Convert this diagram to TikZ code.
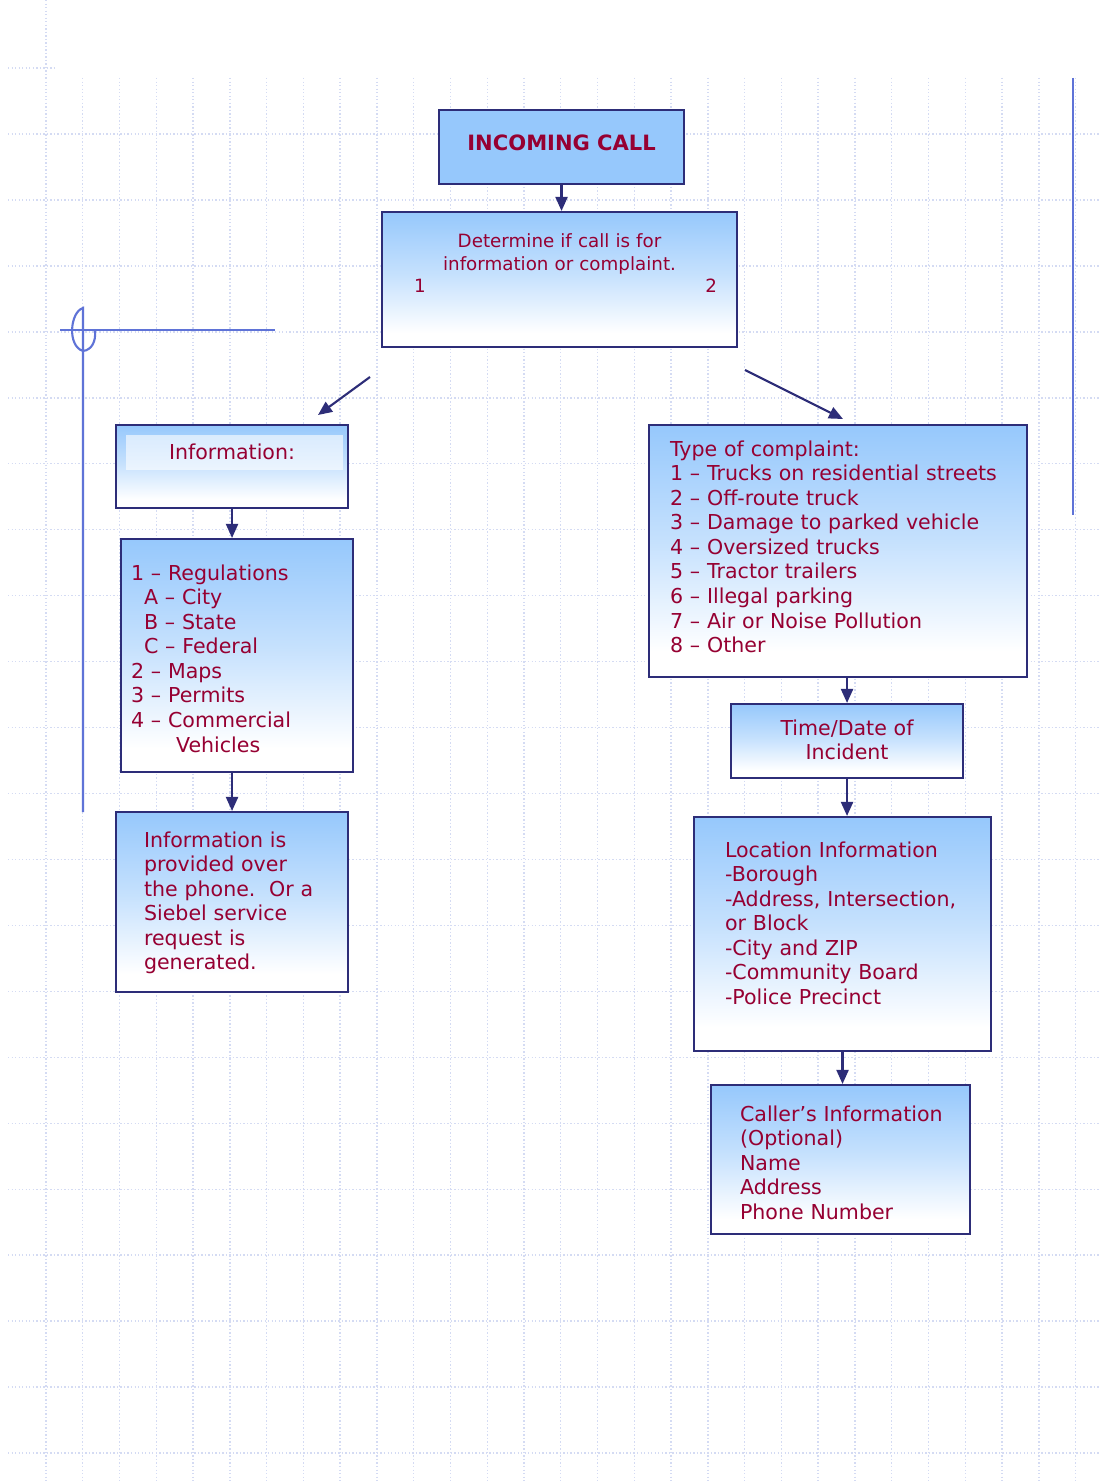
\documentclass[tikz,border=0pt]{standalone}
\usepackage{fontspec}
\setmainfont{DejaVu Sans}
\usepackage{tikz}
\usetikzlibrary{arrows.meta,positioning}
\definecolor{boxblue}{RGB}{150,200,252}
\definecolor{boxline}{RGB}{45,45,120}
\definecolor{txtred}{RGB}{150,0,50}
\definecolor{margenblue}{RGB}{95,115,215}
\definecolor{gridblue}{RGB}{212,219,243}
\pgfdeclareverticalshading{boxfade}{100bp}{color(0bp)=(white); color(30bp)=(white); color(52bp)=(boxblue!55!white); color(75bp)=(boxblue); color(100bp)=(boxblue)}

\begin{document}
\begin{tikzpicture}[x=0.02cm, y=-0.02cm,
    box/.style={draw=boxline, line width=1.2pt, shade, shading=boxfade, inner ysep=0pt,
      anchor=base west, align=left, text=txtred, font=\fontsize{11.7}{14}\selectfont},
    callbox/.style={box, shade=false, fill=boxblue},
    arr/.style={draw=boxline, line width=1.2pt, -{Triangle[length=2.8mm,width=2.4mm]}},
    rejilla/.style={draw=gridblue, line width=0.8pt, dash pattern=on 0.8pt off 1.2pt},
    margen/.style={draw=margenblue, line width=1.2pt}]
    \useasboundingbox (0,0) rectangle (1100,1483);
    \fill[white] (0,0) rectangle (1100,1483);

    % Hoja cuadriculada
    \foreach \i in {0,...,28}
      \draw[rejilla] ({46+36.77*\i},78) -- ({46+36.77*\i},1483);
    \foreach \j in {0,...,20}
      \draw[rejilla] (8,{134+65.95*\j}) -- (1100,{134+65.95*\j});
    \draw[rejilla] (46,0) -- (46,78);
    \draw[rejilla] (8,68) -- (57,68);

    % Margenes
    \draw[margen] (1073,78) -- (1073,515);
    \draw[margen] (60,330) -- (275,330);
    \draw[margen] (83,812) -- (83,308) .. controls (70,312) and (67,346) .. (83,351)
      .. controls (92,350) and (96,341) .. (95,331);

    % Llamada y decision
    \node[callbox, text width=45mm, inner xsep=2mm, text height=8.2mm, text depth=6.6mm,
      align=center, font=\fontsize{12}{14}\selectfont\bfseries] (call) at (438,151) {INCOMING CALL};
    \node[box, text width=63mm, inner xsep=4mm, text height=7.2mm, text depth=19.8mm,
      align=center, font=\fontsize{10.4}{12.75}\selectfont] (det) at (381,248)
      {Determine if call is for\\information or complaint.\\\hspace*{2.4mm}1\hfill 2};

    % Rama de informacion (izquierda)
    \node[box, text width=42.4mm, inner xsep=2mm, text height=6.8mm, text depth=9.8mm,
      align=center, path picture={\fill[white,opacity=.6]
        ([xshift=2mm,yshift=-2mm]path picture bounding box.north west) rectangle
        ([xshift=-1mm,yshift=-9mm]path picture bounding box.north east);}] (info) at (115,459) {Information:};
    \node[box, text width=42.4mm, inner xsep=2mm, text height=8.2mm, text depth=38.4mm] (regs) at (120,580)
      {1 -- Regulations\\\hspace*{2.6mm}A -- City\\\hspace*{2.6mm}B -- State\\\hspace*{2.6mm}C -- Federal\\
       2 -- Maps\\3 -- Permits\\4 -- Commercial\\\hspace*{9mm}Vehicles};
    \node[box, text width=35.2mm, inner xsep=5.6mm, text height=7mm, text depth=29mm] (prov) at (115,847)
      {Information is\\provided over\\the phone.\ \ Or a\\Siebel service\\request is\\generated.};

    % Rama de queja (derecha)
    \node[box, text width=67.2mm, inner xsep=4.2mm, text height=6.2mm, text depth=44.2mm] (comp) at (648,456)
      {Type of complaint:\\\mbox{1 -- Trucks on residential streets}\\2 -- Off-route truck\\
       3 -- Damage to parked vehicle\\4 -- Oversized trucks\\5 -- Tractor trailers\\
       6 -- Illegal parking\\7 -- Air or Noise Pollution\\8 -- Other};
    \node[box, text width=42.4mm, inner xsep=2mm, text height=6.2mm, text depth=8.6mm,
      align=center] (time) at (730,735) {Time/Date of\\Incident};
    \node[box, text width=47mm, inner xsep=6.2mm, text height=8mm, text depth=38.8mm] (loc) at (693,857)
      {Location Information\\-Borough\\\mbox{-Address, Intersection,}\\or Block\\
       -City and ZIP\\-Community Board\\-Police Precinct};
    \node[box, text width=40.2mm, inner xsep=5.8mm, text height=7.2mm, text depth=22.6mm] (caller) at (710,1121)
      {\mbox{Caller’s Information}\\(Optional)\\Name\\Address\\Phone Number};

    % Flechas
    \coordinate (d1) at (370,377);
    \coordinate (i1) at (318,415);
    \coordinate (d2) at (745,370);
    \coordinate (c1) at (843,419);
    \draw[arr] (call.south) -- (call.south |- det.north);
    \draw[arr] (d1) -- (i1);
    \draw[arr] (d2) -- (c1);
    \draw[arr] (info.south) -- (info.south |- regs.north);
    \draw[arr] (prov.north |- regs.south) -- (prov.north);
    \draw[arr] (time.north |- comp.south) -- (time.north);
    \draw[arr] (time.south) -- (time.south |- loc.north);
    \draw[arr] (loc.south) -- (loc.south |- caller.north);
\end{tikzpicture}
\end{document}
